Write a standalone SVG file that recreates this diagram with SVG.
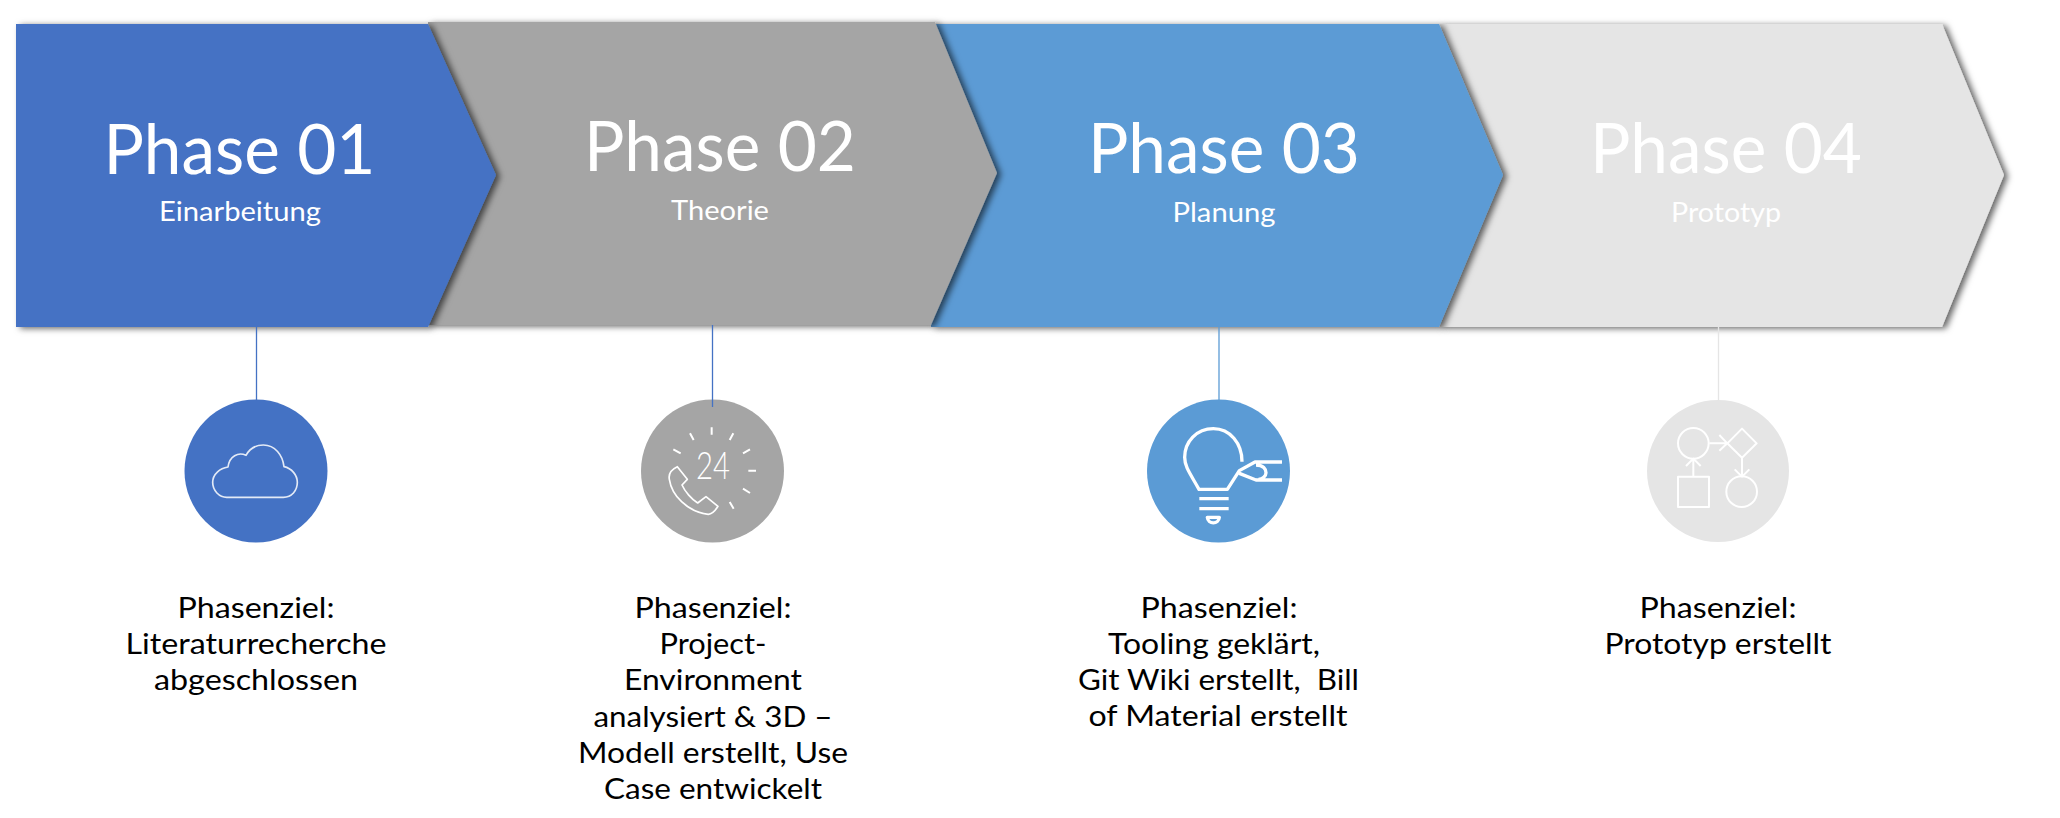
<svg xmlns="http://www.w3.org/2000/svg" width="2060" height="818" viewBox="0 0 2060 818">
<style>
text{font-family:Lato,"Liberation Sans",sans-serif;text-anchor:middle}
.t{fill:#fff;font-size:70px;font-weight:400}
.s{fill:#fff;font-size:27px}
.g{fill:#000;font-size:29px;white-space:pre}
.ic{fill:none;stroke:#fff;stroke-linecap:butt;stroke-linejoin:round}
.c{stroke-width:1.3;fill:none}
</style>
<defs>
<filter id="sh" x="-5%" y="-5%" width="110%" height="110%"><feDropShadow dx="4" dy="1.500" stdDeviation="3" flood-color="#000" flood-opacity=".6"/></filter>
</defs>
<rect width="2060" height="818" fill="#fff"/>
<g id="phase4"><polygon points="1439,24 1942,24 2004,175 1942,327 1439,327" fill="#e5e5e5" filter="url(#sh)"/><text class="t" x="1726" y="173" textLength="272" lengthAdjust="spacingAndGlyphs">Phase 04</text><text class="s" x="1726" y="221.500" textLength="110" lengthAdjust="spacingAndGlyphs">Prototyp</text></g>
<g id="phase3"><polygon points="931,24 1439,24 1503,175 1439,327 931,327" fill="#5b9bd5" filter="url(#sh)"/><text class="t" x="1224" y="173" textLength="272" lengthAdjust="spacingAndGlyphs">Phase 03</text><text class="s" x="1224" y="221.500" textLength="103" lengthAdjust="spacingAndGlyphs">Planung</text></g>
<g id="phase2"><polygon points="428,22 935,22 997,173 931,325 428,325" fill="#a5a5a5" filter="url(#sh)"/><text class="t" x="720" y="171" textLength="272" lengthAdjust="spacingAndGlyphs">Phase 02</text><text class="s" x="720" y="219.500" textLength="98" lengthAdjust="spacingAndGlyphs">Theorie</text></g>
<g id="phase1"><polygon points="16,24 428,24 496,175 428,327 16,327" fill="#4472c4" filter="url(#sh)"/><text class="t" x="239.500" y="174" textLength="272" lengthAdjust="spacingAndGlyphs">Phase 01</text><text class="s" x="240" y="220.500" textLength="162" lengthAdjust="spacingAndGlyphs">Einarbeitung</text></g>
<g id="icon1"><circle cx="256" cy="471" r="71.500" fill="#4472c4"/><g transform="translate(160 380) scale(.33333)"><path class="ic" stroke-width="5" stroke-opacity=".85" d="M200 352H370C395 352 412 332 412 307C412 285 395 265 372 260C368 225 345 195 310 195C285 195 268 208 258 226C235 215 208 228 204 261C180 265 158 282 158 307C158 332 178 352 200 352Z"/></g></g>
<g id="icon2"><circle cx="712.500" cy="471" r="71.500" fill="#a5a5a5"/><g transform="translate(630 380) scale(.33333)"><path class="ic" stroke-width="6" d="M245 142V164M180 160L191 180M130 208L152 220M310 160L299 180M360 208L339 220M355 272H378M339 326L360 339M299 366L311 386"/><path class="ic" stroke-width="5" d="M142 260C125 268 115 282 118 298C125 345 170 395 235 403C250 402 258 388 264 379L228 350L203 369C185 358 165 335 156 315L172 298Z"/></g><text x="713" y="479" font-size="38" font-weight="300" fill="#fff" style="font-family:Lato,sans-serif" textLength="34" lengthAdjust="spacingAndGlyphs">24</text></g>
<g id="icon3"><circle cx="1218.500" cy="471" r="71.500" fill="#5b9bd5"/><g transform="translate(1130 380) scale(.33333)"><path class="ic" stroke-width="10" d="M336 245C336 190 300 146 250 146C200 146 164 185 164 232C164 260 180 280 207 328H292L328 272L375 246H456M328 280L378 300H456M378 255C400 255 408 268 408 278C408 288 398 298 385 298M208 356H296M208 386H296M232 412H268C266 434 234 434 232 412Z"/></g></g>
<g id="icon4"><circle cx="1718" cy="471" r="71" fill="#e5e5e5"/><g transform="translate(1630 380) scale(.33333)"><g class="ic" stroke-width="6"><circle cx="190" cy="190" r="46"/><circle cx="335" cy="335" r="46"/><rect x="144" y="290" width="93" height="91"/><path d="M336 146L380 190L336 233L292 190ZM238 190H290M268 165L292 190L268 212M336 233V290M314 268L336 290L358 268M190 290V238M168 258L190 236L212 258"/></g></g></g>
<g id="connectors" class="c">
<line x1="256.500" y1="327" x2="256.500" y2="400" stroke="#4472c4"/>
<line x1="712.500" y1="325" x2="712.500" y2="407" stroke="#4472c4"/>
<line x1="1219" y1="327" x2="1219" y2="400" stroke="#5b9bd5"/>
<line x1="1718.500" y1="327" x2="1718.500" y2="400" stroke="#e5e5e5"/>
</g>
<g id="goal1"><text class="g" x="256" y="618" textLength="157" lengthAdjust="spacingAndGlyphs">Phasenziel:</text><text class="g" x="256" y="653.500" textLength="261" lengthAdjust="spacingAndGlyphs">Literaturrecherche</text><text class="g" x="256" y="689.500" textLength="204" lengthAdjust="spacingAndGlyphs">abgeschlossen</text></g>
<g id="goal2"><text class="g" x="713" y="618" textLength="157" lengthAdjust="spacingAndGlyphs">Phasenziel:</text><text class="g" x="713" y="653.500" textLength="107" lengthAdjust="spacingAndGlyphs">Project-</text><text class="g" x="713" y="690" textLength="178" lengthAdjust="spacingAndGlyphs">Environment</text><text class="g" x="713" y="726.500" textLength="239" lengthAdjust="spacingAndGlyphs">analysiert &amp; 3D –</text><text class="g" x="713" y="762.500" textLength="270" lengthAdjust="spacingAndGlyphs">Modell erstellt, Use</text><text class="g" x="713" y="799" textLength="218" lengthAdjust="spacingAndGlyphs">Case entwickelt</text></g>
<g id="goal3"><text class="g" x="1219" y="618" textLength="157" lengthAdjust="spacingAndGlyphs">Phasenziel:</text><text class="g" x="1214" y="653.500" textLength="212" lengthAdjust="spacingAndGlyphs">Tooling geklärt,</text><text class="g" x="1218.500" y="689.500" textLength="281" lengthAdjust="spacingAndGlyphs">Git Wiki erstellt,  Bill</text><text class="g" x="1218" y="725.500" textLength="259" lengthAdjust="spacingAndGlyphs">of Material erstellt</text></g>
<g id="goal4"><text class="g" x="1718" y="618" textLength="157" lengthAdjust="spacingAndGlyphs">Phasenziel:</text><text class="g" x="1718" y="653.500" textLength="227" lengthAdjust="spacingAndGlyphs">Prototyp erstellt</text></g>
</svg>
